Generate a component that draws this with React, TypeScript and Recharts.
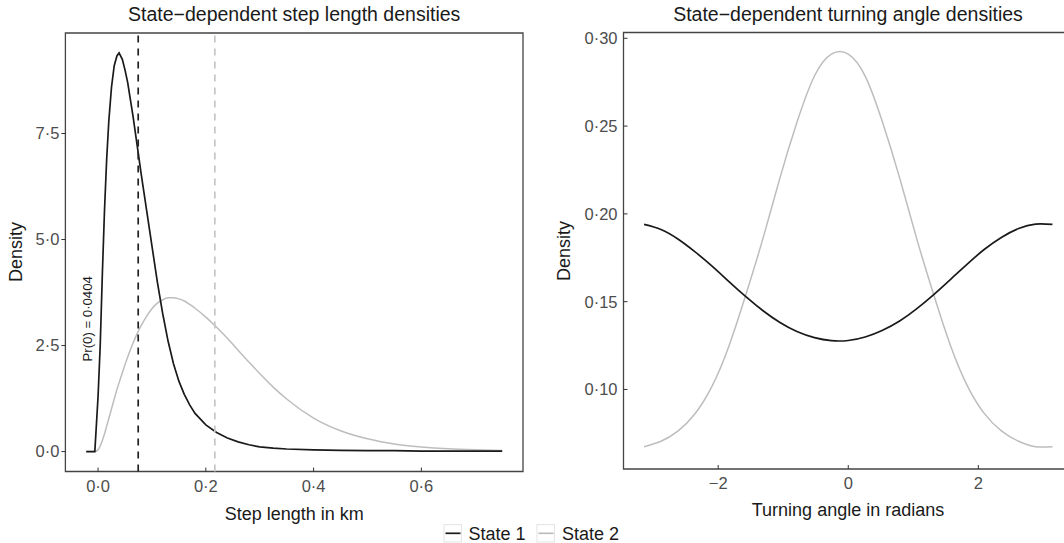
import React from "react";
import {
  LineChart,
  Line,
  XAxis,
  YAxis,
  ReferenceLine,
  ReferenceArea,
  ReferenceDot,
} from "recharts";

// step length densities (km)
const stepX = [
  -0.022, -0.006, 0, 0.004, 0.008, 0.012, 0.016, 0.02, 0.025, 0.03, 0.035, 0.039,
  0.045, 0.05, 0.055, 0.06, 0.065, 0.07, 0.075, 0.08, 0.09, 0.1, 0.11, 0.12, 0.13,
  0.14, 0.15, 0.16, 0.17, 0.18, 0.2, 0.22, 0.24, 0.26, 0.28, 0.3, 0.325, 0.35, 0.4,
  0.45, 0.5, 0.55, 0.6, 0.65, 0.7, 0.75,
];
const stepState1 = [
  0, 0, 1.3, 2.5, 4.2, 5.7, 6.9, 7.8, 8.6, 9.1, 9.33, 9.4, 9.25, 9.0, 8.7, 8.3, 7.9,
  7.45, 7.0, 6.55, 5.7, 4.85, 4.0, 3.25, 2.6, 2.07, 1.66, 1.35, 1.1, 0.9, 0.63, 0.45,
  0.32, 0.23, 0.16, 0.11, 0.08, 0.06, 0.04, 0.03, 0.02, 0.02, 0.01, 0.01, 0.01, 0.01,
];
const stepState2 = [
  0, 0, 0.04, 0.13, 0.26, 0.42, 0.6, 0.78, 1.01, 1.24, 1.46, 1.62, 1.86, 2.05, 2.23,
  2.4, 2.56, 2.71, 2.85, 2.97, 3.19, 3.37, 3.5, 3.58, 3.625, 3.63, 3.6, 3.55, 3.47,
  3.38, 3.17, 2.93, 2.67, 2.39, 2.11, 1.84, 1.52, 1.24, 0.79, 0.49, 0.3, 0.18, 0.11,
  0.065, 0.04, 0.025,
];
const stepTicks = [0, 0.2, 0.4, 0.6];
const stepDensityTicks = [0, 2.5, 5, 7.5];
const stepMean1 = 0.0745;
const stepMean2 = 0.2167;
const zeroMassLabel = "Pr(0) = 0·0404";

// turning angle densities (radians)
const angleX = [
  -3.14, -2.88, -2.62, -2.36, -2.09, -1.83, -1.57, -1.31, -1.05, -0.79, -0.52, -0.26,
  0, 0.26, 0.52, 0.79, 1.05, 1.31, 1.57, 1.83, 2.09, 2.36, 2.62, 2.88, 3.14,
];
const angleState1 = [
  0.194, 0.1911, 0.1857, 0.1785, 0.1701, 0.1613, 0.1527, 0.1448, 0.1381, 0.133,
  0.1295, 0.1278, 0.1279, 0.1299, 0.1336, 0.139, 0.1459, 0.1539, 0.1626, 0.1714,
  0.1797, 0.1867, 0.1917, 0.1942, 0.194,
];
const angleState2 = [
  0.0674, 0.0705, 0.0763, 0.086, 0.1022, 0.1252, 0.1545, 0.1862, 0.2205, 0.252,
  0.2785, 0.291, 0.291, 0.2785, 0.253, 0.2205, 0.1862, 0.1545, 0.1252, 0.1022, 0.0864,
  0.0763, 0.0705, 0.0674, 0.0674,
];
const angleTicks = [-2, 0, 2];
const angleDensityTicks = [0.1, 0.15, 0.2, 0.25, 0.3];

const stepData = stepX.map((x, i) => ({ x, s1: stepState1[i], s2: stepState2[i] }));
const angleData = angleX.map((x, i) => ({ x, s1: angleState1[i], s2: angleState2[i] }));

const FONT = "'Liberation Sans', Arial, Helvetica, sans-serif";
const BLACK = "#1a1a1a";
const GREY = "#bdbdbd";
const TICK = { fill: "#4d4d4d", fontSize: 16.5, fontFamily: FONT };

const dot = (v: number, d: number) => v.toFixed(d).replace(".", "·");
const minus = (v: number) => (v < 0 ? "\u2212" + Math.abs(v) : String(v));

const stepXDomain = [-0.0606, 0.7886];
const stepYDomain = [-0.47, 9.87];
const angleXDomain = [-3.456, 3.456];
const angleYDomain = [0.0547, 0.3033];

function StepChart() {
  return (
    <LineChart
      width={532}
      height={543}
      data={stepData}
      margin={{ top: 33, right: 9, bottom: 0, left: 0 }}
    >
      <XAxis
        dataKey="x"
        type="number"
        domain={stepXDomain}
        allowDataOverflow
        ticks={stepTicks}
        tickFormatter={(v) => dot(v, 1)}
        axisLine={false}
        tickLine={{ stroke: "#333" }}
        tickSize={-4}
        tickMargin={12.5}
        height={71.5}
        tick={TICK}
      />
      <YAxis
        type="number"
        domain={stepYDomain}
        allowDataOverflow
        ticks={stepDensityTicks}
        tickFormatter={(v) => dot(v, 1)}
        axisLine={false}
        tickLine={{ stroke: "#333" }}
        tickSize={4}
        tickMargin={2}
        width={65.4}
        tick={TICK}
      />
      <ReferenceArea
        x1={stepXDomain[0]}
        x2={stepXDomain[1]}
        y1={stepYDomain[0]}
        y2={stepYDomain[1]}
        fill="none"
        stroke="#444"
        strokeWidth={1.3}
        ifOverflow="visible"
      />
      <Line
        type="monotone"
        dataKey="s2"
        stroke={GREY}
        strokeWidth={1.5}
        dot={false}
        isAnimationActive={false}
      />
      <Line
        type="linear"
        dataKey="s1"
        stroke={BLACK}
        strokeWidth={1.7}
        dot={false}
        isAnimationActive={false}
      />
      <ReferenceLine x={stepMean1} stroke="#222" strokeWidth={1.7} strokeDasharray="7 6" />
      <ReferenceLine x={stepMean2} stroke="#c6c6c6" strokeWidth={1.7} strokeDasharray="7 6" />
      <ReferenceDot
        x={-0.0112}
        y={3.13}
        r={0}
        ifOverflow="visible"
        shape={(p: any) => (
          <text
            x={p.cx}
            y={p.cy}
            transform={`rotate(-90 ${p.cx} ${p.cy})`}
            textAnchor="middle"
            fontSize={13.2}
            fontFamily={FONT}
            fill={BLACK}
          >
            {zeroMassLabel}
          </text>
        )}
      />
    </LineChart>
  );
}

function AngleChart() {
  return (
    <LineChart
      width={543}
      height={543}
      data={angleData}
      margin={{ top: 32.5, right: 10, bottom: 0, left: 0 }}
    >
      <XAxis
        dataKey="x"
        type="number"
        domain={angleXDomain}
        allowDataOverflow
        ticks={angleTicks}
        tickFormatter={minus}
        axisLine={false}
        tickLine={{ stroke: "#333" }}
        tickSize={-4}
        tickMargin={12}
        height={74}
        tick={TICK}
      />
      <YAxis
        type="number"
        domain={angleYDomain}
        allowDataOverflow
        ticks={angleDensityTicks}
        tickFormatter={(v) => dot(v, 2)}
        axisLine={false}
        tickLine={{ stroke: "#333" }}
        tickSize={-4}
        tickMargin={10}
        width={83.5}
        tick={TICK}
      />
      <ReferenceArea
        x1={angleXDomain[0]}
        x2={angleXDomain[1]}
        y1={angleYDomain[0]}
        y2={angleYDomain[1]}
        fill="none"
        stroke="#444"
        strokeWidth={1.3}
        ifOverflow="visible"
      />
      <Line
        type="natural"
        dataKey="s2"
        stroke={GREY}
        strokeWidth={1.5}
        dot={false}
        isAnimationActive={false}
      />
      <Line
        type="natural"
        dataKey="s1"
        stroke={BLACK}
        strokeWidth={1.7}
        dot={false}
        isAnimationActive={false}
      />
    </LineChart>
  );
}

export default function App() {
  return (
    <div
      style={{
        position: "absolute",
        left: 0,
        top: 0,
        width: 1064,
        height: 543,
        overflow: "hidden",
        background: "#fff",
      }}
    >
      <div style={{ position: "absolute", left: 0, top: 0 }}>
        <StepChart />
      </div>
      <div style={{ position: "absolute", left: 540, top: 0 }}>
        <AngleChart />
      </div>
      <svg
        width={1064}
        height={543}
        style={{ position: "absolute", left: 0, top: 0, pointerEvents: "none" }}
        fontFamily={FONT}
        fill={BLACK}
      >
        <text x={294.2} y={21.3} fontSize={19.5} textAnchor="middle">
          State−dependent step length densities
        </text>
        <text x={848} y={20.7} fontSize={19.5} textAnchor="middle">
          State−dependent turning angle densities
        </text>
        <text x={294.2} y={519.5} fontSize={18} textAnchor="middle">
          Step length in km
        </text>
        <text x={848} y={515.5} fontSize={18} textAnchor="middle">
          Turning angle in radians
        </text>
        <text x={21.5} y={252} fontSize={18} textAnchor="middle" transform="rotate(-90 21.5 252)">
          Density
        </text>
        <text x={569.7} y={251} fontSize={18} textAnchor="middle" transform="rotate(-90 569.7 251)">
          Density
        </text>
        <rect x={444} y={524.6} width={17.4} height={17.4} fill="#fff" stroke="#e3e3e3" />
        <line x1={445.5} x2={460.5} y1={533.3} y2={533.3} stroke={BLACK} strokeWidth={1.7} />
        <text x={468.5} y={539.5} fontSize={18}>State 1</text>
        <rect x={537} y={524.6} width={17.4} height={17.4} fill="#fff" stroke="#e3e3e3" />
        <line x1={538.5} x2={553.5} y1={533.3} y2={533.3} stroke={GREY} strokeWidth={1.7} />
        <text x={562} y={539.5} fontSize={18}>State 2</text>
      </svg>
    </div>
  );
}
